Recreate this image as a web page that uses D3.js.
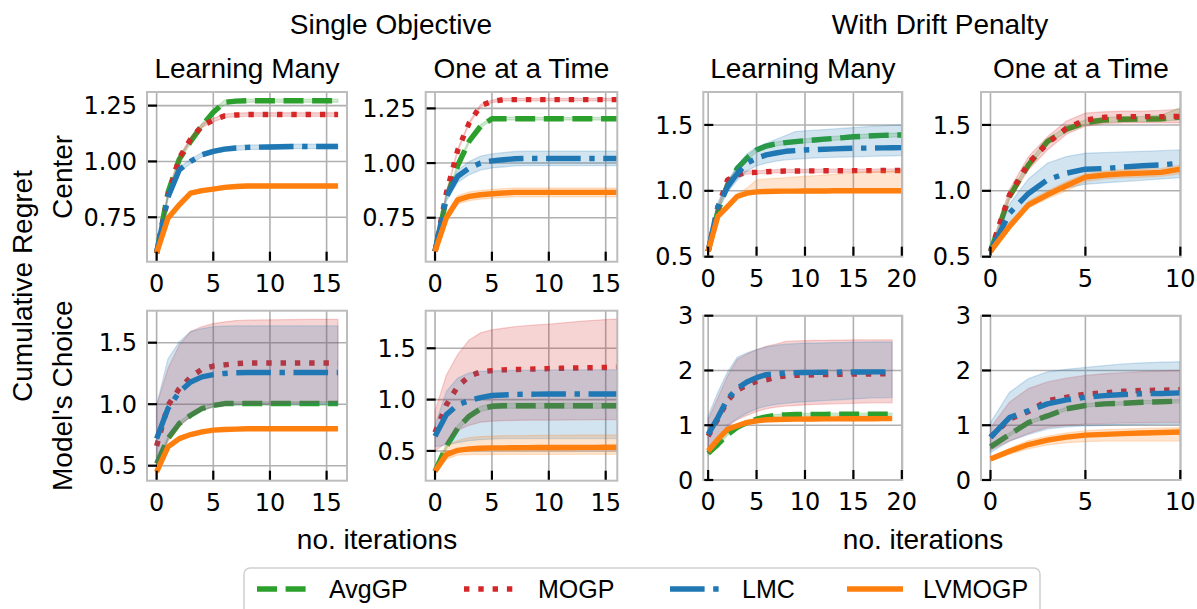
<!DOCTYPE html>
<html><head><meta charset="utf-8">
<script src="https://cdn.jsdelivr.net/npm/d3@7"></script>
<style>body{margin:0;background:#fff} svg{display:block}</style>
</head><body><svg id="c" width="1197" height="609"></svg>
<script>
// ---------- data ----------
const methods = ["AvgGP","MOGP","LMC","LVMOGP"];
const iters16 = [0,1,2,3,4,5,6,7,8,9,10,11,12,13,14,15,16];
const iters20 = [0,1,2,3,4,5,6,7,8,9,10,11,12,13,14,15,16,17,18,19,20];
const iters19 = [0,1,2,3,4,5,6,7,8,9,10,11,12,13,14,15,16,17,18,19];
const iters10 = [0,1,2,3,4,5,6,7,8,9,10];

const ticksX16 = [0,5,10,15];
const ticksX20 = [0,5,10,15,20];
const ticksX10 = [0,5,10];
const ticksYa = [0.75,1.00,1.25];
const ticksYb = [0.5,1.0,1.5];
const ticksYc = [0,1,2,3];
const tickLabYa = ["0.75","1.00","1.25"];
const tickLabYb = ["0.5","1.0","1.5"];
const tickLabYc = ["0","1","2","3"];

// Panel 1: Single Objective / Learning Many / Center
const p1_avg    = [0.59,0.86,1.01,1.09,1.16,1.22,1.265,1.27,1.272,1.272,1.272,1.272,1.272,1.272,1.272,1.272,1.272];
const p1_avg_lo = [0.585,0.85,1.0,1.08,1.15,1.21,1.255,1.262,1.265,1.265,1.265,1.265,1.265,1.265,1.265,1.265,1.265];
const p1_avg_hi = [0.595,0.87,1.02,1.1,1.17,1.23,1.275,1.278,1.279,1.279,1.279,1.279,1.279,1.279,1.279,1.279,1.279];
const p1_mogp    = [0.59,0.845,1.015,1.1,1.16,1.185,1.204,1.208,1.21,1.21,1.21,1.21,1.21,1.21,1.21,1.21,1.21];
const p1_mogp_lo = [0.585,0.837,1.007,1.092,1.152,1.177,1.196,1.2,1.202,1.202,1.202,1.202,1.202,1.202,1.202,1.202,1.202];
const p1_mogp_hi = [0.595,0.853,1.023,1.108,1.168,1.193,1.212,1.216,1.218,1.218,1.218,1.218,1.218,1.218,1.218,1.218,1.218];
const p1_lmc    = [0.59,0.84,0.963,1.0,1.03,1.045,1.055,1.06,1.063,1.064,1.065,1.066,1.067,1.067,1.067,1.067,1.067];
const p1_lmc_lo = [0.585,0.83,0.953,0.99,1.02,1.035,1.045,1.05,1.053,1.054,1.055,1.056,1.057,1.057,1.057,1.057,1.057];
const p1_lmc_hi = [0.595,0.85,0.973,1.01,1.04,1.055,1.065,1.07,1.073,1.074,1.075,1.076,1.077,1.077,1.077,1.077,1.077];
const p1_lv    = [0.59,0.746,0.806,0.858,0.869,0.876,0.884,0.888,0.89,0.89,0.89,0.89,0.89,0.89,0.89,0.89,0.89];
const p1_lv_lo = [0.585,0.738,0.798,0.85,0.861,0.868,0.876,0.88,0.882,0.882,0.882,0.882,0.882,0.882,0.882,0.882,0.882];
const p1_lv_hi = [0.595,0.754,0.814,0.866,0.877,0.884,0.892,0.896,0.898,0.898,0.898,0.898,0.898,0.898,0.898,0.898,0.898];

// Panel 2: Single Objective / One at a Time / Center
const p2_avg    = [0.596,0.84,0.99,1.1,1.168,1.203,1.203,1.203,1.203,1.203,1.203,1.203,1.203,1.203,1.203,1.203,1.203];
const p2_avg_lo = [0.59,0.832,0.982,1.092,1.16,1.197,1.197,1.197,1.197,1.197,1.197,1.197,1.197,1.197,1.197,1.197,1.197];
const p2_avg_hi = [0.602,0.848,0.998,1.108,1.176,1.209,1.209,1.209,1.209,1.209,1.209,1.209,1.209,1.209,1.209,1.209,1.209];
const p2_mogp    = [0.596,0.863,1.06,1.183,1.262,1.282,1.29,1.29,1.29,1.29,1.29,1.29,1.29,1.29,1.29,1.29,1.29];
const p2_mogp_lo = [0.59,0.857,1.054,1.177,1.256,1.276,1.284,1.284,1.284,1.284,1.284,1.284,1.284,1.284,1.284,1.284,1.284];
const p2_mogp_hi = [0.602,0.869,1.066,1.189,1.268,1.288,1.296,1.296,1.296,1.296,1.296,1.296,1.296,1.296,1.296,1.296,1.296];
const p2_lmc    = [0.596,0.847,0.94,0.977,1.0,1.01,1.015,1.02,1.021,1.021,1.021,1.021,1.021,1.021,1.021,1.021,1.021];
const p2_lmc_lo = [0.586,0.827,0.912,0.947,0.968,0.978,0.982,0.987,0.988,0.988,0.988,0.988,0.988,0.988,0.988,0.988,0.988];
const p2_lmc_hi = [0.606,0.867,0.968,1.007,1.032,1.042,1.048,1.053,1.054,1.054,1.054,1.054,1.054,1.054,1.054,1.054,1.054];
const p2_lv    = [0.596,0.75,0.832,0.848,0.855,0.86,0.863,0.866,0.866,0.866,0.866,0.866,0.866,0.866,0.866,0.866,0.866];
const p2_lv_lo = [0.59,0.735,0.813,0.828,0.835,0.84,0.843,0.846,0.846,0.846,0.846,0.846,0.846,0.846,0.846,0.846,0.846];
const p2_lv_hi = [0.602,0.765,0.851,0.868,0.875,0.88,0.883,0.886,0.886,0.886,0.886,0.886,0.886,0.886,0.886,0.886,0.886];

// Panel 3: With Drift Penalty / Learning Many / Center
const p3_avg    = [0.54,0.843,1.045,1.17,1.247,1.31,1.34,1.356,1.366,1.373,1.38,1.386,1.392,1.398,1.404,1.41,1.414,1.418,1.421,1.423,1.424];
const p3_avg_lo = [0.53,0.828,1.03,1.155,1.232,1.295,1.325,1.341,1.351,1.358,1.365,1.371,1.377,1.383,1.389,1.395,1.399,1.403,1.406,1.408,1.409];
const p3_avg_hi = [0.55,0.858,1.06,1.185,1.262,1.325,1.355,1.371,1.381,1.388,1.395,1.401,1.407,1.413,1.419,1.425,1.429,1.433,1.436,1.438,1.439];
const p3_mogp    = [0.54,0.87,1.083,1.12,1.139,1.14,1.145,1.148,1.15,1.15,1.151,1.151,1.152,1.152,1.152,1.153,1.153,1.153,1.154,1.154,1.154];
const p3_mogp_lo = [0.53,0.858,1.071,1.108,1.127,1.128,1.133,1.136,1.138,1.138,1.139,1.139,1.14,1.14,1.14,1.141,1.141,1.141,1.142,1.142,1.142];
const p3_mogp_hi = [0.55,0.882,1.095,1.132,1.151,1.152,1.157,1.16,1.162,1.162,1.163,1.163,1.164,1.164,1.164,1.165,1.165,1.165,1.166,1.166,1.166];
const p3_lmc    = [0.54,0.88,1.03,1.13,1.21,1.247,1.273,1.287,1.3,1.305,1.31,1.313,1.316,1.318,1.321,1.323,1.324,1.325,1.326,1.327,1.328];
const p3_lmc_lo = [0.52,0.85,0.99,1.08,1.15,1.19,1.21,1.225,1.235,1.24,1.245,1.25,1.252,1.254,1.256,1.258,1.26,1.262,1.264,1.266,1.268];
const p3_lmc_hi = [0.56,0.91,1.07,1.19,1.28,1.33,1.36,1.39,1.42,1.45,1.455,1.46,1.465,1.47,1.475,1.48,1.485,1.49,1.493,1.496,1.5];
const p3_lv    = [0.54,0.806,0.88,0.957,0.982,0.992,0.995,0.997,0.998,0.998,0.999,0.999,0.999,1.0,1.0,1.0,1.0,1.0,1.0,1.0,1.0];
const p3_lv_lo = [0.53,0.792,0.866,0.943,0.968,0.978,0.981,0.983,0.984,0.984,0.985,0.985,0.985,0.986,0.986,0.986,0.986,0.986,0.986,0.986,0.986];
const p3_lv_hi = [0.55,0.82,0.9,0.98,1.02,1.083,1.09,1.095,1.1,1.105,1.11,1.115,1.12,1.125,1.13,1.135,1.14,1.143,1.146,1.149,1.152];

// Panel 4: With Drift Penalty / One at a Time / Center
const p4_avg    = [0.54,0.957,1.197,1.374,1.467,1.518,1.538,1.543,1.545,1.547,1.56];
const p4_avg_lo = [0.53,0.937,1.177,1.354,1.447,1.498,1.518,1.523,1.525,1.527,1.54];
const p4_avg_hi = [0.55,0.977,1.217,1.394,1.487,1.538,1.558,1.563,1.565,1.575,1.63];
const p4_mogp    = [0.54,0.97,1.21,1.36,1.475,1.538,1.558,1.563,1.563,1.563,1.565];
const p4_mogp_lo = [0.52,0.93,1.16,1.31,1.43,1.49,1.51,1.515,1.515,1.515,1.515];
const p4_mogp_hi = [0.56,1.01,1.26,1.41,1.53,1.59,1.6,1.605,1.605,1.61,1.62];
const p4_lmc    = [0.54,0.83,0.98,1.083,1.134,1.164,1.169,1.18,1.19,1.197,1.21];
const p4_lmc_lo = [0.52,0.76,0.88,0.97,1.02,1.05,1.06,1.07,1.08,1.09,1.1];
const p4_lmc_hi = [0.56,0.9,1.09,1.21,1.26,1.285,1.29,1.295,1.3,1.305,1.31];
const p4_lv    = [0.54,0.73,0.894,0.97,1.038,1.104,1.12,1.13,1.134,1.14,1.164];
const p4_lv_lo = [0.53,0.71,0.87,0.94,1.0,1.07,1.09,1.1,1.103,1.11,1.13];
const p4_lv_hi = [0.55,0.75,0.92,1.0,1.07,1.13,1.15,1.16,1.165,1.17,1.195];

// Panel 5: Single Objective / Learning Many / Model's Choice
const p5_avg    = [0.517,0.72,0.843,0.91,0.965,0.99,1.005,1.005,1.005,1.005,1.005,1.005,1.005,1.005,1.005,1.005,1.005];
const p5_avg_lo = [0.5,0.705,0.828,0.895,0.95,0.975,0.99,0.99,0.99,0.99,0.99,0.99,0.99,0.99,0.99,0.99,0.99];
const p5_avg_hi = [0.534,0.735,0.858,0.925,0.98,1.005,1.02,1.02,1.02,1.02,1.02,1.02,1.02,1.02,1.02,1.02,1.02];
const p5_mogp    = [0.66,0.99,1.127,1.22,1.285,1.31,1.32,1.33,1.335,1.335,1.335,1.335,1.335,1.335,1.335,1.335,1.335];
const p5_mogp_lo = [0.45,0.7,0.82,0.9,0.95,0.98,0.99,1.0,1.0,1.0,1.0,1.005,1.01,1.01,1.015,1.015,1.02];
const p5_mogp_hi = [0.99,1.29,1.48,1.59,1.63,1.655,1.67,1.68,1.683,1.685,1.686,1.687,1.688,1.689,1.69,1.69,1.69];
const p5_lmc    = [0.72,0.965,1.1,1.18,1.222,1.24,1.25,1.255,1.257,1.257,1.257,1.257,1.257,1.257,1.257,1.257,1.257];
const p5_lmc_lo = [0.47,0.72,0.83,0.9,0.95,0.98,0.99,0.995,1.0,1.0,1.0,1.0,1.0,1.0,1.0,1.0,1.0];
const p5_lmc_hi = [0.99,1.37,1.507,1.59,1.615,1.63,1.635,1.637,1.637,1.637,1.637,1.637,1.637,1.637,1.637,1.637,1.637];
const p5_lv    = [0.45,0.653,0.72,0.753,0.775,0.789,0.794,0.797,0.8,0.8,0.8,0.8,0.8,0.8,0.8,0.8,0.8];
const p5_lv_lo = [0.44,0.643,0.71,0.743,0.765,0.779,0.784,0.787,0.79,0.79,0.79,0.79,0.79,0.79,0.79,0.79,0.79];
const p5_lv_hi = [0.46,0.663,0.73,0.763,0.785,0.799,0.804,0.807,0.81,0.81,0.81,0.81,0.81,0.81,0.81,0.81,0.81];

// Panel 6: Single Objective / One at a Time / Model's Choice
const p6_avg    = [0.302,0.545,0.724,0.838,0.91,0.935,0.94,0.94,0.94,0.94,0.94,0.94,0.94,0.94,0.94,0.94,0.94];
const p6_avg_lo = [0.28,0.52,0.7,0.813,0.885,0.91,0.915,0.915,0.915,0.915,0.915,0.915,0.915,0.915,0.915,0.915,0.915];
const p6_avg_hi = [0.325,0.57,0.75,0.863,0.935,0.96,0.965,0.965,0.965,0.965,0.965,0.965,0.965,0.965,0.965,0.965,0.965];
const p6_mogp    = [0.68,0.95,1.13,1.227,1.27,1.282,1.29,1.293,1.296,1.299,1.302,1.305,1.307,1.309,1.311,1.313,1.315];
const p6_mogp_lo = [0.5,0.58,0.7,0.75,0.78,0.79,0.795,0.797,0.8,0.8,0.8,0.801,0.802,0.803,0.804,0.804,0.805];
const p6_mogp_hi = [0.89,1.24,1.44,1.58,1.65,1.68,1.695,1.71,1.72,1.728,1.735,1.745,1.755,1.765,1.772,1.78,1.785];
const p6_lmc    = [0.643,0.854,0.95,0.99,1.02,1.04,1.045,1.05,1.052,1.053,1.054,1.055,1.055,1.055,1.055,1.055,1.055];
const p6_lmc_lo = [0.54,0.56,0.58,0.6,0.61,0.615,0.62,0.62,0.62,0.62,0.62,0.62,0.62,0.62,0.62,0.62,0.62];
const p6_lmc_hi = [0.75,1.08,1.21,1.26,1.275,1.28,1.283,1.285,1.287,1.288,1.289,1.29,1.29,1.29,1.29,1.29,1.29];
const p6_lv    = [0.302,0.464,0.506,0.52,0.526,0.53,0.53,0.531,0.532,0.533,0.533,0.534,0.534,0.535,0.535,0.536,0.536];
const p6_lv_lo = [0.28,0.42,0.46,0.465,0.465,0.465,0.466,0.466,0.466,0.466,0.466,0.467,0.467,0.467,0.467,0.467,0.467];
const p6_lv_hi = [0.32,0.55,0.6,0.63,0.64,0.645,0.648,0.65,0.65,0.652,0.652,0.653,0.654,0.655,0.655,0.656,0.656];

// Panel 7: With Drift Penalty / Learning Many / Model's Choice
const p7_avg    = [0.49,0.65,0.83,0.96,1.05,1.11,1.154,1.18,1.19,1.195,1.197,1.198,1.199,1.2,1.2,1.2,1.2,1.2,1.2,1.2];
const p7_avg_lo = [0.47,0.63,0.81,0.94,1.03,1.09,1.134,1.16,1.17,1.175,1.177,1.178,1.179,1.18,1.18,1.18,1.18,1.18,1.18,1.18];
const p7_avg_hi = [0.51,0.67,0.85,0.98,1.07,1.13,1.174,1.2,1.21,1.215,1.217,1.218,1.219,1.22,1.22,1.22,1.22,1.22,1.22,1.22];
const p7_mogp    = [0.8,1.11,1.45,1.64,1.73,1.8,1.83,1.88,1.9,1.91,1.915,1.92,1.924,1.928,1.93,1.933,1.935,1.937,1.939,1.94];
const p7_mogp_lo = [0.5,0.7,0.98,1.1,1.18,1.25,1.3,1.33,1.35,1.36,1.37,1.38,1.385,1.39,1.395,1.4,1.405,1.41,1.41,1.41];
const p7_mogp_hi = [1.1,1.5,1.9,2.2,2.3,2.38,2.44,2.48,2.53,2.54,2.545,2.55,2.55,2.555,2.555,2.56,2.56,2.56,2.56,2.56];
const p7_lmc    = [0.833,1.14,1.48,1.67,1.79,1.87,1.925,1.94,1.955,1.96,1.963,1.966,1.968,1.97,1.971,1.972,1.973,1.974,1.975,1.975];
const p7_lmc_lo = [0.5,0.7,1.0,1.12,1.22,1.3,1.35,1.38,1.4,1.42,1.43,1.44,1.45,1.46,1.47,1.48,1.49,1.5,1.5,1.51];
const p7_lmc_hi = [1.17,1.6,1.97,2.24,2.32,2.38,2.43,2.46,2.48,2.49,2.5,2.5,2.505,2.51,2.51,2.515,2.515,2.52,2.52,2.52];
const p7_lv    = [0.53,0.74,0.926,0.99,1.05,1.08,1.1,1.105,1.11,1.112,1.114,1.115,1.116,1.117,1.118,1.118,1.119,1.119,1.12,1.12];
const p7_lv_lo = [0.51,0.72,0.906,0.97,1.03,1.06,1.08,1.085,1.09,1.092,1.094,1.095,1.096,1.097,1.098,1.098,1.099,1.099,1.1,1.1];
const p7_lv_hi = [0.55,0.76,0.946,1.01,1.07,1.1,1.12,1.125,1.13,1.132,1.134,1.135,1.136,1.137,1.138,1.138,1.139,1.139,1.14,1.14];

// Panel 8: With Drift Penalty / One at a Time / Model's Choice
const p8_avg    = [0.605,0.83,1.05,1.17,1.3,1.36,1.39,1.4,1.42,1.43,1.44];
const p8_avg_lo = [0.575,0.8,1.02,1.14,1.27,1.33,1.36,1.37,1.39,1.4,1.41];
const p8_avg_hi = [0.635,0.86,1.08,1.2,1.33,1.39,1.42,1.43,1.45,1.46,1.47];
const p8_mogp    = [0.78,1.11,1.25,1.45,1.51,1.57,1.59,1.62,1.635,1.64,1.65];
const p8_mogp_lo = [0.55,0.71,0.85,0.96,1.0,1.02,1.03,1.04,1.045,1.05,1.05];
const p8_mogp_hi = [0.95,1.42,1.67,1.79,1.86,1.91,1.94,1.96,1.98,1.99,2.0];
const p8_lmc    = [0.78,1.14,1.265,1.39,1.463,1.51,1.54,1.56,1.574,1.58,1.59];
const p8_lmc_lo = [0.5,0.71,0.83,0.93,0.97,0.99,1.0,1.01,1.015,1.02,1.02];
const p8_lmc_hi = [1.05,1.6,1.85,1.975,2.02,2.055,2.09,2.12,2.14,2.15,2.16];
const p8_lv    = [0.383,0.525,0.648,0.728,0.784,0.82,0.833,0.846,0.858,0.868,0.877];
const p8_lv_lo = [0.35,0.47,0.57,0.64,0.68,0.7,0.71,0.71,0.71,0.71,0.71];
const p8_lv_hi = [0.42,0.58,0.72,0.8,0.86,0.9,0.92,0.93,0.94,0.95,0.957];

// ---------- styling / layout ----------
const colors = {AvgGP:"#2ca02c", MOGP:"#d62728", LMC:"#1f77b4", LVMOGP:"#ff7f0e"};
const dashes = {AvgGP:"20,8.6", MOGP:"5.4,8.9", LMC:"34.6,8.6,5.4,8.6", LVMOGP:null};
const LW = 5.4;
const TICKFONT = "'DejaVu Sans', sans-serif";
const TEXTFONT = "'Liberation Sans', Arial, sans-serif";

const panels = [
  {x:[147,347], y:[261.7,92], xd:[-0.85,16.8], yd:[0.551,1.311], xt:ticksX16, yt:ticksYa, yl:tickLabYa, it:iters16,
   s:{AvgGP:[p1_avg,p1_avg_lo,p1_avg_hi],MOGP:[p1_mogp,p1_mogp_lo,p1_mogp_hi],LMC:[p1_lmc,p1_lmc_lo,p1_lmc_hi],LVMOGP:[p1_lv,p1_lv_lo,p1_lv_hi]}},
  {x:[425.7,617.3], y:[261.7,92], xd:[-0.82,16.02], yd:[0.549,1.325], xt:ticksX16, yt:ticksYa, yl:tickLabYa, it:iters16,
   s:{AvgGP:[p2_avg,p2_avg_lo,p2_avg_hi],MOGP:[p2_mogp,p2_mogp_lo,p2_mogp_hi],LMC:[p2_lmc,p2_lmc_lo,p2_lmc_hi],LVMOGP:[p2_lv,p2_lv_lo,p2_lv_hi]}},
  {x:[703.3,902.3], y:[256.7,92], xd:[-0.5,20.05], yd:[0.5,1.75], xt:ticksX20, yt:ticksYb, yl:tickLabYb, it:iters20,
   s:{AvgGP:[p3_avg,p3_avg_lo,p3_avg_hi],MOGP:[p3_mogp,p3_mogp_lo,p3_mogp_hi],LMC:[p3_lmc,p3_lmc_lo,p3_lmc_hi],LVMOGP:[p3_lv,p3_lv_lo,p3_lv_hi]}},
  {x:[981,1180.7], y:[256.7,92], xd:[-0.5,10.02], yd:[0.5,1.75], xt:ticksX10, yt:ticksYb, yl:tickLabYb, it:iters10,
   s:{AvgGP:[p4_avg,p4_avg_lo,p4_avg_hi],MOGP:[p4_mogp,p4_mogp_lo,p4_mogp_hi],LMC:[p4_lmc,p4_lmc_lo,p4_lmc_hi],LVMOGP:[p4_lv,p4_lv_lo,p4_lv_hi]}},
  {x:[147,347], y:[480.7,310.7], xd:[-0.85,16.8], yd:[0.378,1.76], xt:ticksX16, yt:ticksYb, yl:tickLabYb, it:iters16,
   s:{AvgGP:[p5_avg,p5_avg_lo,p5_avg_hi],MOGP:[p5_mogp,p5_mogp_lo,p5_mogp_hi],LMC:[p5_lmc,p5_lmc_lo,p5_lmc_hi],LVMOGP:[p5_lv,p5_lv_lo,p5_lv_hi]}},
  {x:[425.7,617.3], y:[480.7,310.7], xd:[-0.82,16.02], yd:[0.21,1.866], xt:ticksX16, yt:ticksYb, yl:tickLabYb, it:iters16,
   s:{AvgGP:[p6_avg,p6_avg_lo,p6_avg_hi],MOGP:[p6_mogp,p6_mogp_lo,p6_mogp_hi],LMC:[p6_lmc,p6_lmc_lo,p6_lmc_hi],LVMOGP:[p6_lv,p6_lv_lo,p6_lv_hi]}},
  {x:[703.3,902.3], y:[480,315.7], xd:[-0.5,20.05], yd:[0,3], xt:ticksX20, yt:ticksYc, yl:tickLabYc, it:iters19,
   s:{AvgGP:[p7_avg,p7_avg_lo,p7_avg_hi],MOGP:[p7_mogp,p7_mogp_lo,p7_mogp_hi],LMC:[p7_lmc,p7_lmc_lo,p7_lmc_hi],LVMOGP:[p7_lv,p7_lv_lo,p7_lv_hi]}},
  {x:[981,1180.7], y:[480,315.7], xd:[-0.5,10.02], yd:[0,3], xt:ticksX10, yt:ticksYc, yl:tickLabYc, it:iters10,
   s:{AvgGP:[p8_avg,p8_avg_lo,p8_avg_hi],MOGP:[p8_mogp,p8_mogp_lo,p8_mogp_hi],LMC:[p8_lmc,p8_lmc_lo,p8_lmc_hi],LVMOGP:[p8_lv,p8_lv_lo,p8_lv_hi]}}
];

const svg = d3.select("#c");
const defs = svg.append("defs");

panels.forEach((p, i) => {
  const xs = d3.scaleLinear().domain(p.xd).range(p.x);
  const ys = d3.scaleLinear().domain(p.yd).range(p.y);
  const g = svg.append("g");
  const cid = "clip" + i;
  defs.append("clipPath").attr("id", cid).append("rect")
    .attr("x", p.x[0]).attr("y", p.y[1]).attr("width", p.x[1]-p.x[0]).attr("height", p.y[0]-p.y[1]);

  // grid
  const grid = g.append("g").attr("clip-path", `url(#${cid})`);
  grid.selectAll("line.gx").data(p.xt).join("line")
    .attr("x1", d => xs(d)).attr("x2", d => xs(d)).attr("y1", p.y[0]).attr("y2", p.y[1])
    .attr("stroke", "#b0b0b0").attr("stroke-width", 1.6);
  grid.selectAll("line.gy").data(p.yt).join("line").attr("class","gy")
    .attr("x1", p.x[0]).attr("x2", p.x[1]).attr("y1", d => ys(d)).attr("y2", d => ys(d))
    .attr("stroke", "#b0b0b0").attr("stroke-width", 1.6);

  // data
  const dg = g.append("g").attr("clip-path", `url(#${cid})`);
  methods.forEach(m => {
    const [mean, lo, hi] = p.s[m];
    const pts = p.it.map((t, k) => ({t, m: mean[k], lo: lo[k], hi: hi[k]}));
    const area = d3.area().x(d => xs(d.t)).y0(d => ys(d.lo)).y1(d => ys(d.hi));
    dg.append("path").attr("d", area(pts))
      .attr("fill", colors[m]).attr("fill-opacity", 0.2)
      .attr("stroke", colors[m]).attr("stroke-opacity", 0.2).attr("stroke-width", 1.3);
    const line = d3.line().x(d => xs(d.t)).y(d => ys(d.m));
    const path = dg.append("path").attr("d", line(pts))
      .attr("fill", "none").attr("stroke", colors[m]).attr("stroke-width", LW)
      .attr("stroke-linejoin", "round").attr("stroke-linecap", "butt");
    if (dashes[m]) path.attr("stroke-dasharray", dashes[m]);
  });

  // frame
  g.append("rect").attr("x", p.x[0]).attr("y", p.y[1])
    .attr("width", p.x[1]-p.x[0]).attr("height", p.y[0]-p.y[1])
    .attr("fill", "none").attr("stroke", "#bdbdbd").attr("stroke-width", 2);

  // ticks (inward)
  g.selectAll("line.tx").data(p.xt).join("line").attr("class","tx")
    .attr("x1", d => xs(d)).attr("x2", d => xs(d)).attr("y1", p.y[0]-1).attr("y2", p.y[0]-10)
    .attr("stroke", "#000").attr("stroke-width", 2.2);
  g.selectAll("line.ty").data(p.yt).join("line").attr("class","ty")
    .attr("y1", d => ys(d)).attr("y2", d => ys(d)).attr("x1", p.x[0]+1).attr("x2", p.x[0]+10)
    .attr("stroke", "#000").attr("stroke-width", 2.2);

  // tick labels
  g.selectAll("text.lx").data(p.xt).join("text").attr("class","lx")
    .attr("x", d => xs(d)).attr("y", p.y[0] + 30)
    .attr("text-anchor", "middle").attr("font-family", TICKFONT).attr("font-size", 24)
    .text(d => d3.format("d")(d));
  g.selectAll("text.ly").data(p.yt).join("text").attr("class","ly")
    .attr("x", p.x[0] - 10).attr("y", d => ys(d)).attr("dy", "0.36em")
    .attr("text-anchor", "end").attr("font-family", TICKFONT).attr("font-size", 24)
    .text((d, k) => p.yl[k]);
});

// ---------- titles ----------
function txt(x, y, s, size, opts={}) {
  const t = svg.append("text").attr("x", x).attr("y", y).text(s)
    .attr("font-family", TEXTFONT).attr("font-size", size).attr("fill", "#000")
    .attr("text-anchor", opts.anchor || "middle");
  if (opts.rotate) t.attr("transform", `rotate(-90 ${x} ${y})`);
  return t;
}
const supTitles = ["Single Objective", "With Drift Penalty"];
const colTitles = ["Learning Many", "One at a Time", "Learning Many", "One at a Time"];
const rowTitles = ["Center", "Model's Choice"];
txt(391, 34, supTitles[0], 28);
txt(940, 34, supTitles[1], 28);
[0,1,2,3].forEach(c => {
  const p = panels[c];
  txt((p.x[0]+p.x[1])/2, 78, colTitles[c], 28);
});
txt(32, 286, "Cumulative Regret", 28, {rotate:true});
txt(72, (panels[0].y[0]+panels[0].y[1])/2, rowTitles[0], 28, {rotate:true});
txt(72, (panels[4].y[0]+panels[4].y[1])/2, rowTitles[1], 28, {rotate:true});
txt(377, 549, "no. iterations", 28);
txt(923, 549, "no. iterations", 28);

// ---------- legend ----------
const lg = svg.append("g");
lg.append("rect").attr("x", 244).attr("y", 568).attr("width", 796).attr("height", 60).attr("rx", 6)
  .attr("fill", "#fff").attr("stroke", "#d0d0d0").attr("stroke-width", 1.5);
const legHandleX = [257, 464, 670, 847];
const legTextX = [329, 538, 742, 923];
methods.forEach((m, k) => {
  const l = lg.append("line").attr("x1", legHandleX[k]).attr("x2", legHandleX[k]+56)
    .attr("y1", 589).attr("y2", 589).attr("stroke", colors[m]).attr("stroke-width", LW);
  if (dashes[m]) l.attr("stroke-dasharray", dashes[m]);
  lg.append("text").attr("x", legTextX[k]).attr("y", 598).text(m)
    .attr("font-family", TEXTFONT).attr("font-size", 25);
});
</script></body></html>
